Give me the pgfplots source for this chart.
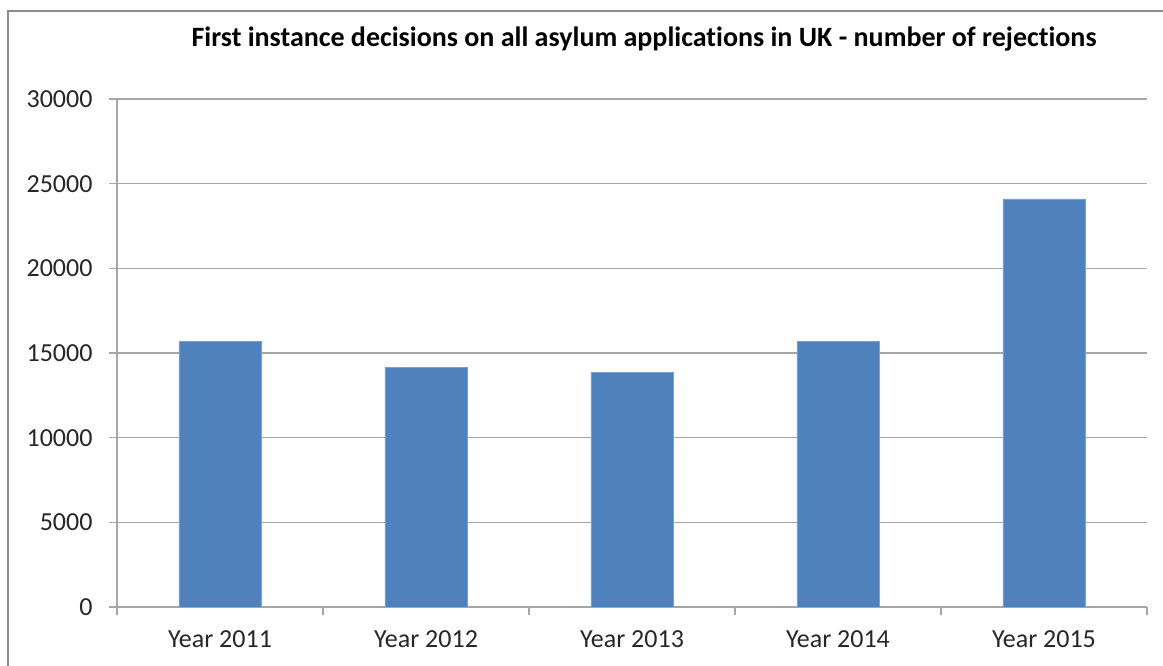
\documentclass[border=0pt]{standalone}
\usepackage{pgfplots}
\pgfplotsset{compat=1.18}
\usepackage{fontspec}
\setmainfont[Ligatures=NoCommon]{Carlito}
\definecolor{barblue}{HTML}{4F81BD}
\definecolor{gridgray}{HTML}{A6A6A6}
\definecolor{framegray}{HTML}{8C8C8C}
\begin{document}
\begin{tikzpicture}[x=1pt,y=1pt]
\path[use as bounding box] (0,0) rectangle (1163,666);
\begin{scope}
\clip (0,0) rectangle (1163,666);
\draw[framegray, line width=2pt] (8,-30) rectangle (1200,655);
\end{scope}
\begin{axis}[
  at={(117pt,59pt)}, anchor=south west,
  scale only axis, width=1030pt, height=508pt,
  ymin=0, ymax=30000, ytick={0,5000,...,30000},
  xmin=-0.5, xmax=4.5,
  xtick={-0.5,0.5,...,4.5}, xticklabels={},
  extra x ticks={0,1,2,3,4},
  extra x tick labels={Year 2011,Year 2012,Year 2013,Year 2014,Year 2015},
  extra x tick style={major tick length=0pt, grid=none},
  axis x line*=bottom, axis y line*=left,
  axis line style={draw=gridgray, line width=1.3pt},
  ymajorgrids, grid style={draw=gridgray, line width=1.3pt},
  tick align=outside, major tick length=8pt,
  tick style={draw=gridgray, line width=1.3pt},
  ticklabel style={font=\fontsize{26}{31}\selectfont, text=black!85},
  /pgf/number format/fixed, /pgf/number format/1000 sep={},
  scaled y ticks=false,
  /pgf/number format/assume math mode=true,
  xticklabel style={yshift=-20pt},
  yticklabel style={xshift=-13pt},
  ybar, bar width=82pt,
]
\addplot[fill=barblue, draw=barblue!75!white, line width=0.8pt]
  coordinates {(0,15670) (1,14150) (2,13860) (3,15670) (4,24100)};
\end{axis}
\node[font=\bfseries\fontsize{28}{32}\selectfont, text=black] at (644,627)
  {First instance decisions on all asylum applications in UK - number of rejections};
\end{tikzpicture}
\end{document}
